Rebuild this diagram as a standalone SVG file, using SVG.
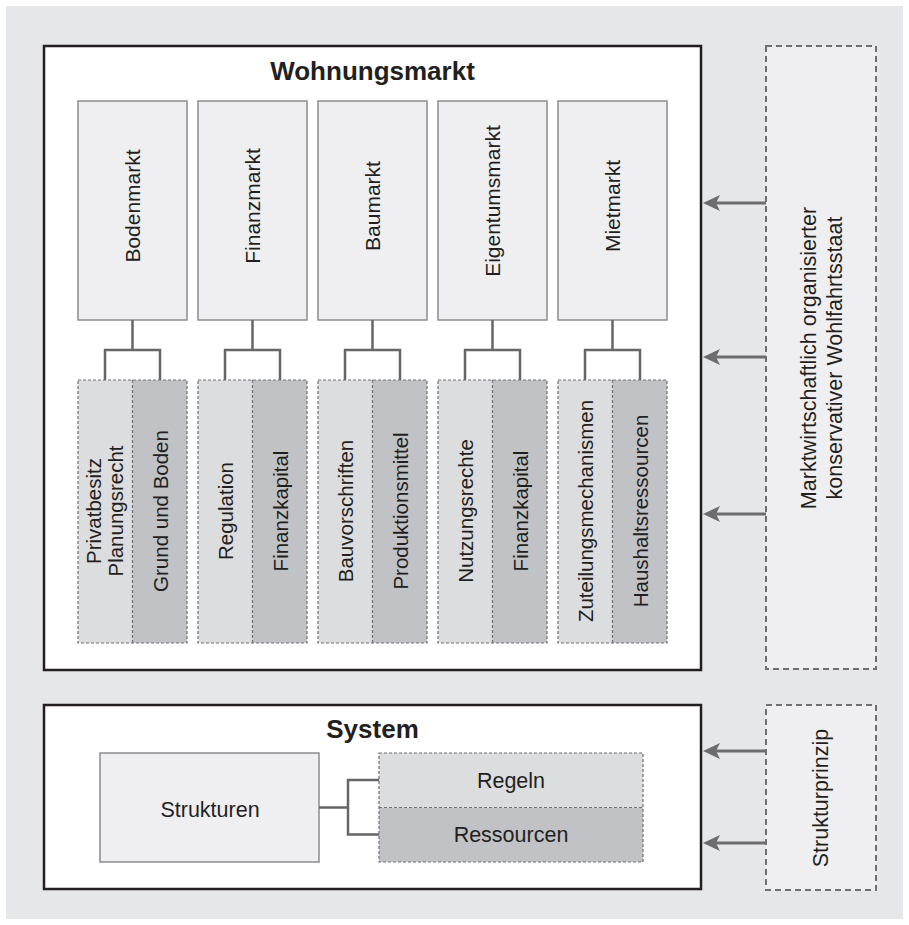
<svg xmlns="http://www.w3.org/2000/svg" width="909" height="925" viewBox="0 0 909 925">
<style>
text{font-family:"Liberation Sans",Arial,sans-serif;fill:#231f20}
.title{font-size:26px;font-weight:bold;text-anchor:middle}
.lbl{font-size:21px;text-anchor:middle}
.lbl2{font-size:21.5px;text-anchor:middle}
.sub{font-size:20.5px;text-anchor:middle}
.frame{fill:#ffffff;stroke:#231f20;stroke-width:2.5}
.mkt{fill:#efeff1;stroke:#8c8c8e;stroke-width:1.5}
.lt{fill:#dcdddf}
.dk{fill:#c1c2c5}
.dash{fill:none;stroke:#707072;stroke-width:1.2;stroke-dasharray:3 2}
.ext{fill:#efeff1;stroke:#6f6f71;stroke-width:2;stroke-dasharray:6 4}
.con{fill:none;stroke:#666668;stroke-width:2.5}
.arr{fill:none;stroke:#6d6d6f;stroke-width:3;marker-end:url(#ah)}
</style>
<defs>
<marker id="ah" markerUnits="userSpaceOnUse" markerWidth="20" markerHeight="20" refX="8" refY="10" orient="auto" viewBox="0 0 20 20">
<path d="M0,2 L17,10 L0,18 L4,10 Z" fill="#6d6d6f"/>
</marker>
</defs>
<rect x="6" y="6" width="897" height="913" fill="#e6e7e8"/>

<g id="wohnungsmarkt">
<rect class="frame" x="44" y="46" width="657" height="624"/>
<text class="title" x="372.5" y="80">Wohnungsmarkt</text>
</g>

<g id="bodenmarkt">
<rect class="mkt" x="78" y="101" width="109" height="219"/>
<text class="lbl" transform="translate(140,206) rotate(-90)">Bodenmarkt</text>
</g>
<g id="finanzmarkt">
<rect class="mkt" x="198" y="101" width="109" height="219"/>
<text class="lbl" transform="translate(260,206) rotate(-90)">Finanzmarkt</text>
</g>
<g id="baumarkt">
<rect class="mkt" x="318" y="101" width="109" height="219"/>
<text class="lbl" transform="translate(380,206) rotate(-90)">Baumarkt</text>
</g>
<g id="eigentumsmarkt">
<rect class="mkt" x="438" y="101" width="109" height="219"/>
<text class="lbl" transform="translate(500,201) rotate(-90)">Eigentumsmarkt</text>
</g>
<g id="mietmarkt">
<rect class="mkt" x="558" y="101" width="109" height="219"/>
<text class="lbl" transform="translate(620,206) rotate(-90)">Mietmarkt</text>
</g>

<g id="boden-sub">
<rect class="lt" x="78" y="380" width="54.5" height="263"/>
<rect class="dk" x="132.5" y="380" width="54.5" height="263"/>
<rect class="dash" x="78" y="380" width="109" height="263"/>
<line class="dash" x1="132.5" y1="380" x2="132.5" y2="643"/>
<text class="sub" transform="translate(101,511) rotate(-90)">Privatbesitz</text>
<text class="sub" transform="translate(123,511) rotate(-90)">Planungsrecht</text>
<text class="sub" transform="translate(167.5,511) rotate(-90)">Grund und Boden</text>
</g>
<g id="finanz-sub">
<rect class="lt" x="198" y="380" width="54.5" height="263"/>
<rect class="dk" x="252.5" y="380" width="54.5" height="263"/>
<rect class="dash" x="198" y="380" width="109" height="263"/>
<line class="dash" x1="252.5" y1="380" x2="252.5" y2="643"/>
<text class="sub" transform="translate(232.5,511) rotate(-90)">Regulation</text>
<text class="sub" transform="translate(287.5,511) rotate(-90)">Finanzkapital</text>
</g>
<g id="bau-sub">
<rect class="lt" x="318" y="380" width="54.5" height="263"/>
<rect class="dk" x="372.5" y="380" width="54.5" height="263"/>
<rect class="dash" x="318" y="380" width="109" height="263"/>
<line class="dash" x1="372.5" y1="380" x2="372.5" y2="643"/>
<text class="sub" transform="translate(352.5,511) rotate(-90)">Bauvorschriften</text>
<text class="sub" transform="translate(407.5,511) rotate(-90)">Produktionsmittel</text>
</g>
<g id="eigentum-sub">
<rect class="lt" x="438" y="380" width="54.5" height="263"/>
<rect class="dk" x="492.5" y="380" width="54.5" height="263"/>
<rect class="dash" x="438" y="380" width="109" height="263"/>
<line class="dash" x1="492.5" y1="380" x2="492.5" y2="643"/>
<text class="sub" transform="translate(472.5,511) rotate(-90)">Nutzungsrechte</text>
<text class="sub" transform="translate(527.5,511) rotate(-90)">Finanzkapital</text>
</g>
<g id="miet-sub">
<rect class="lt" x="558" y="380" width="54.5" height="263"/>
<rect class="dk" x="612.5" y="380" width="54.5" height="263"/>
<rect class="dash" x="558" y="380" width="109" height="263"/>
<line class="dash" x1="612.5" y1="380" x2="612.5" y2="643"/>
<text class="sub" transform="translate(592.5,511) rotate(-90)">Zuteilungsmechanismen</text>
<text class="sub" transform="translate(647.5,511) rotate(-90)">Haushaltsressourcen</text>
</g>

<g id="wohlfahrtsstaat">
<rect class="ext" x="766" y="46" width="110" height="623"/>
<text class="lbl2" transform="translate(815.5,358) rotate(-90)">Marktwirtschaftlich organisierter</text>
<text class="lbl2" transform="translate(841.5,358) rotate(-90)">konservativer Wohlfahrtsstaat</text>
</g>

<g id="system">
<rect class="frame" x="44" y="705" width="657" height="184"/>
<text class="title" x="372.5" y="738">System</text>
</g>
<g id="strukturen">
<rect class="mkt" x="100" y="753" width="219" height="109"/>
<text class="lbl2" x="210" y="817">Strukturen</text>
</g>
<g id="regeln-ressourcen">
<rect class="lt" x="379" y="753" width="264" height="54.5"/>
<rect class="dk" x="379" y="807.5" width="264" height="54.5"/>
<rect class="dash" x="379" y="753" width="264" height="109"/>
<line class="dash" x1="379" y1="807.5" x2="643" y2="807.5"/>
<text class="lbl2" x="511" y="788">Regeln</text>
<text class="lbl2" x="511" y="842">Ressourcen</text>
</g>
<g id="strukturprinzip">
<rect class="ext" x="766" y="705" width="110" height="185"/>
<text class="lbl2" transform="translate(828,798) rotate(-90)">Strukturprinzip</text>
</g>

<g id="connectors">
<path class="con" d="M132.5,320 V350 M105,380 V350 H160 V380"/>
<path class="con" d="M252.5,320 V350 M225,380 V350 H280 V380"/>
<path class="con" d="M372.5,320 V350 M345,380 V350 H400 V380"/>
<path class="con" d="M492.5,320 V350 M465,380 V350 H520 V380"/>
<path class="con" d="M612.5,320 V350 M585,380 V350 H640 V380"/>
<path class="con" d="M319,807.5 H348 M379,780 H348 V834.5 H379"/>
<line class="arr" x1="766" y1="203" x2="712" y2="203"/>
<line class="arr" x1="766" y1="357" x2="712" y2="357"/>
<line class="arr" x1="766" y1="514" x2="712" y2="514"/>
<line class="arr" x1="766" y1="751" x2="712" y2="751"/>
<line class="arr" x1="766" y1="843" x2="712" y2="843"/>
</g>
</svg>
